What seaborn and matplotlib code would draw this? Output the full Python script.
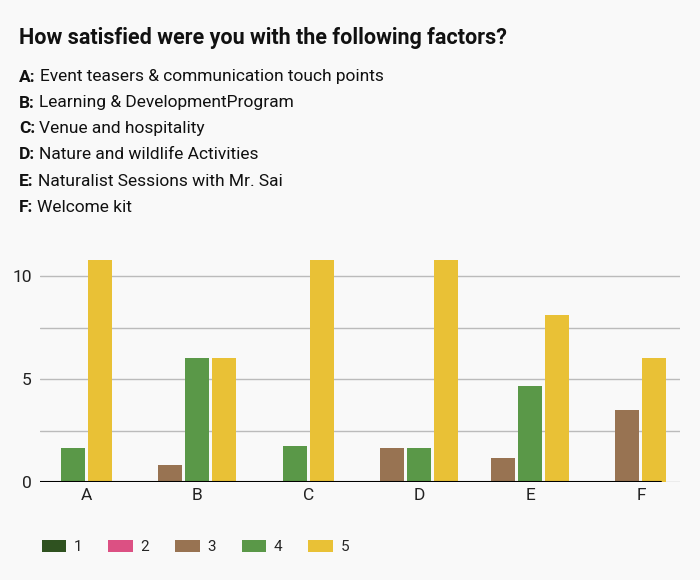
import matplotlib
matplotlib.use("Agg")
import matplotlib.pyplot as plt
import seaborn as sns
from matplotlib.patches import Patch

sns.set_theme(style="white")
plt.rcParams["font.family"] = ["Roboto", "DejaVu Sans"]

categories = ["A", "B", "C", "D", "E", "F"]
descriptions = [
    "Event teasers & communication touch points",
    "Learning & DevelopmentProgram",
    "Venue and hospitality",
    "Nature and wildlife Activities",
    "Naturalist Sessions with Mr. Sai",
    "Welcome kit",
]
series_names = ["1", "2", "3", "4", "5"]
rating_1 = [0, 0, 0, 0, 0, 0]
rating_2 = [0, 0, 0, 0, 0, 0]
rating_3 = [0, 0.83, 0, 1.65, 1.17, 3.5]
rating_4 = [1.65, 6.03, 1.75, 1.65, 4.67, 0]
rating_5 = [10.8, 6.03, 10.8, 10.8, 8.12, 6.03]
colors = ["#2f5220", "#dc5083", "#987352", "#5a9848", "#e9c136"]

series = [rating_1, rating_2, rating_3, rating_4, rating_5]
bg = "#f9f9f9"

fig = plt.figure(figsize=(7, 5.8), dpi=100, facecolor=bg)
ax = fig.add_axes([0.057, 0.169, 0.914, 0.3827], facecolor=bg)

pitch = 0.2437
width = 0.2166
for i, cat in enumerate(categories):
    # only ratings that got answers are drawn, centred on the category
    present = [k for k in range(len(series)) if series[k][i] > 0]
    n = len(present)
    for j, k in enumerate(present):
        x = i + (j - (n - 1) / 2) * pitch
        ax.bar(x, series[k][i], width=width, color=colors[k], linewidth=0)

ax.set_xlim(-0.42, 5.35)
ax.set_ylim(0, 10.8)
ax.set_xticks(range(len(categories)))
ax.set_xticklabels(categories, fontsize=12.5, color="#222222")
ax.set_yticks([0, 5, 10])
ax.set_yticklabels(["0", "5", "10"], fontsize=12.5, color="#222222")
ax.set_yticks([2.5, 7.5], minor=True)
ax.tick_params(axis="both", length=0, pad=6)
ax.tick_params(axis="x", pad=4)
ax.grid(True, axis="y", which="both", color="#bbbbbb", linewidth=1)
ax.set_axisbelow(True)
for s in ax.spines.values():
    s.set_visible(False)
ax.axhline(0, color="black", linewidth=1.5, zorder=5, xmax=0.97)

fig.text(19 / 700, 1 - 38 / 580, "How satisfied were you with the following factors?",
         fontsize=15.5, fontweight="bold", va="center", ha="left", color="#111111")

fig.canvas.draw()
renderer = fig.canvas.get_renderer()
for i, (cat, desc) in enumerate(zip(categories, descriptions)):
    y = 1 - (77 + 26 * i) / 580
    t = fig.text(19 / 700, y, cat + ":", fontsize=12.5, fontweight="bold",
                 va="center", ha="left", color="#111111")
    bb = t.get_window_extent(renderer)
    fig.text((bb.x1 + 4) / 700, y, desc, fontsize=12.5, va="center", ha="left",
             color="#111111")

handles = [Patch(facecolor=c, edgecolor="none") for c in colors]
fig.legend(handles, series_names, loc="center left", bbox_to_anchor=(28 / 700, 1 - 547 / 580),
           ncol=5, frameon=False, fontsize=11, handlelength=1.6, handleheight=0.9,
           handletextpad=0.5, columnspacing=1.7)

fig.savefig("out.png", dpi=100, facecolor=bg)
